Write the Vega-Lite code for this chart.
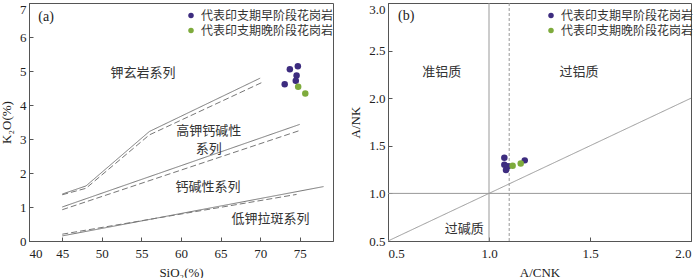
{
  "$schema": "https://vega.github.io/schema/vega-lite/v6.json",
  "padding": {"left": 0, "top": 0, "right": 3, "bottom": 0},
  "spacing": 14,
  "datasets": {
    "linesA": [
      {"id": "A1", "style": "solid", "x": 45, "y": 1.38},
      {"id": "A1", "style": "solid", "x": 48, "y": 1.62},
      {"id": "A1", "style": "solid", "x": 56, "y": 3.22},
      {"id": "A1", "style": "solid", "x": 70, "y": 4.79},
      {"id": "A2", "style": "dashed", "x": 45, "y": 1.36},
      {"id": "A2", "style": "dashed", "x": 48, "y": 1.55},
      {"id": "A2", "style": "dashed", "x": 56, "y": 3.12},
      {"id": "A2", "style": "dashed", "x": 70.2, "y": 4.66},
      {"id": "B1", "style": "solid", "x": 45, "y": 1.0},
      {"id": "B1", "style": "solid", "x": 75, "y": 3.43},
      {"id": "B2", "style": "dashed", "x": 45, "y": 0.92},
      {"id": "B2", "style": "dashed", "x": 75, "y": 3.25},
      {"id": "C1", "style": "solid", "x": 45, "y": 0.15},
      {"id": "C1", "style": "solid", "x": 78, "y": 1.6},
      {"id": "C2", "style": "dashed", "x": 45, "y": 0.2},
      {"id": "C2", "style": "dashed", "x": 74.6, "y": 1.37}
    ],
    "pointsA": [
      {"group": "代表印支期早阶段花岗岩", "x": 73.75, "y": 5.05},
      {"group": "代表印支期早阶段花岗岩", "x": 74.76, "y": 5.14},
      {"group": "代表印支期早阶段花岗岩", "x": 74.6, "y": 4.87},
      {"group": "代表印支期早阶段花岗岩", "x": 74.5, "y": 4.71},
      {"group": "代表印支期早阶段花岗岩", "x": 73.1, "y": 4.61},
      {"group": "代表印支期晚阶段花岗岩", "x": 74.8, "y": 4.54},
      {"group": "代表印支期晚阶段花岗岩", "x": 75.7, "y": 4.34}
    ],
    "textA": [
      {"x": 55.2, "y": 4.94, "label": "钾玄岩系列"},
      {"x": 63.5, "y": 3.23, "label": "高钾钙碱性"},
      {"x": 63.5, "y": 2.72, "label": "系列"},
      {"x": 63.4, "y": 1.59, "label": "钙碱性系列"},
      {"x": 71.3, "y": 0.65, "label": "低钾拉斑系列"}
    ],
    "linesB": [
      {"id": "v1", "style": "solid", "x": 1.0, "y": 0.5},
      {"id": "v1", "style": "solid", "x": 1.0, "y": 3.0},
      {"id": "h1", "style": "solid", "x": 0.5, "y": 1.0},
      {"id": "h1", "style": "solid", "x": 2.0, "y": 1.0},
      {"id": "d1", "style": "solid", "x": 0.5, "y": 0.5},
      {"id": "d1", "style": "solid", "x": 2.0, "y": 2.0},
      {"id": "v2", "style": "dashed", "x": 1.1, "y": 0.5},
      {"id": "v2", "style": "dashed", "x": 1.1, "y": 3.0}
    ],
    "pointsB": [
      {"group": "代表印支期早阶段花岗岩", "x": 1.076, "y": 1.375},
      {"group": "代表印支期早阶段花岗岩", "x": 1.076, "y": 1.3},
      {"group": "代表印支期早阶段花岗岩", "x": 1.084, "y": 1.245},
      {"group": "代表印支期早阶段花岗岩", "x": 1.094, "y": 1.284},
      {"group": "代表印支期早阶段花岗岩", "x": 1.177, "y": 1.347},
      {"group": "代表印支期晚阶段花岗岩", "x": 1.117, "y": 1.29},
      {"group": "代表印支期晚阶段花岗岩", "x": 1.157, "y": 1.315}
    ],
    "textB": [
      {"x": 0.766, "y": 2.275, "label": "准铝质"},
      {"x": 1.445, "y": 2.275, "label": "过铝质"},
      {"x": 0.878, "y": 0.63, "label": "过碱质"}
    ],
    "tagA": [{"x": 42.95, "y": 6.59, "label": "(a)"}],
    "tagB": [{"x": 0.59, "y": 2.86, "label": "(b)"}]
  },
  "resolve": {"scale": {"color": "independent", "strokeDash": "independent"}, "legend": {"color": "independent"}},
  "hconcat": [
    {
      "width": 304,
      "height": 238,
      "encoding": {
        "x": {"field": "x", "type": "quantitative", "scale": {"domain": [40.8, 79.2], "nice": false, "zero": false},
          "axis": {"title": "SiO₂(%)", "values": [40.8, 45, 50, 55, 60, 65, 70, 75], "labelExpr": "datum.value < 41 ? '40' : datum.label", "labelFlush": true, "labelOverlap": false, "labelPadding": 10, "titlePadding": 6}},
        "y": {"field": "y", "type": "quantitative", "scale": {"domain": [0, 7], "nice": false, "zero": false},
          "axis": {"title": "K₂O(%)", "values": [0, 1, 2, 3, 4, 5, 6, 7], "tickCount": 8, "labelOverlap": false, "labelSeparation": 0, "labelPadding": 7, "labelBaseline": {"condition": {"test": "datum.value >= 7", "value": "top"}, "value": "middle"}, "titlePadding": 6}}
      },
      "layer": [
        {
          "data": {"name": "linesA"},
          "mark": {"type": "line", "color": "#777", "strokeWidth": 1},
          "encoding": {
            "detail": {"field": "id"},
            "strokeDash": {"field": "style", "type": "nominal", "scale": {"domain": ["solid", "dashed"], "range": [[1, 0], [6, 3]]}, "legend": null}
          }
        },
        {
          "data": {"name": "textA"},
          "mark": {"type": "text", "font": "Noto Sans CJK SC", "fontSize": 13, "color": "#333"},
          "encoding": {"text": {"field": "label"}}
        },
        {
          "data": {"name": "tagA"},
          "mark": {"type": "text", "font": "Liberation Serif", "fontSize": 14, "color": "#222"},
          "encoding": {"text": {"field": "label"}}
        },
        {
          "data": {"name": "pointsA"},
          "mark": {"type": "circle", "size": 42, "opacity": 1},
          "encoding": {
            "color": {"field": "group", "type": "nominal",
              "scale": {"domain": ["代表印支期早阶段花岗岩", "代表印支期晚阶段花岗岩"], "range": ["#3d2c7f", "#7eab3c"]},
              "legend": {"title": null, "orient": "none", "legendX": 156, "legendY": 6.5}}
          }
        }
      ]
    },
    {
      "width": 303,
      "height": 238,
      "encoding": {
        "x": {"field": "x", "type": "quantitative", "scale": {"domain": [0.5, 2.0], "nice": false, "zero": false},
          "axis": {"title": "A/CNK", "values": [0.5, 1.0, 1.5, 2.0], "format": ".1f", "labelFlush": true, "labelOverlap": false, "labelPadding": 10, "titlePadding": 6}},
        "y": {"field": "y", "type": "quantitative", "scale": {"domain": [0.5, 3.0], "nice": false, "zero": false},
          "axis": {"title": "A/NK", "values": [0.5, 1.0, 1.5, 2.0, 2.5, 3.0], "format": ".1f", "labelOverlap": false, "labelPadding": 7, "labelBaseline": {"condition": {"test": "datum.value >= 3", "value": "top"}, "value": "middle"}, "titlePadding": 6}}
      },
      "layer": [
        {
          "data": {"name": "linesB"},
          "mark": {"type": "line", "color": "#999", "strokeWidth": 1},
          "encoding": {
            "detail": {"field": "id"},
            "strokeDash": {"field": "style", "type": "nominal", "scale": {"domain": ["solid", "dashed"], "range": [[1, 0], [3, 2]]}, "legend": null}
          }
        },
        {
          "data": {"name": "textB"},
          "mark": {"type": "text", "font": "Noto Sans CJK SC", "fontSize": 13, "color": "#333"},
          "encoding": {"text": {"field": "label"}}
        },
        {
          "data": {"name": "tagB"},
          "mark": {"type": "text", "font": "Liberation Serif", "fontSize": 14, "color": "#222"},
          "encoding": {"text": {"field": "label"}}
        },
        {
          "data": {"name": "pointsB"},
          "mark": {"type": "circle", "size": 42, "opacity": 1},
          "encoding": {
            "color": {"field": "group", "type": "nominal",
              "scale": {"domain": ["代表印支期早阶段花岗岩", "代表印支期晚阶段花岗岩"], "range": ["#3d2c7f", "#7eab3c"]},
              "legend": {"title": null, "orient": "none", "legendX": 157, "legendY": 6.5}}
          }
        }
      ]
    }
  ],
  "config": {
    "view": {"stroke": "#555", "strokeWidth": 1},
    "axis": {
      "labelFont": "Liberation Serif", "labelFontSize": 13, "labelColor": "#222",
      "titleFont": "Liberation Serif", "titleFontSize": 13, "titleFontWeight": "normal", "titleColor": "#222",
      "grid": false, "domainColor": "#555", "tickColor": "#555", "tickSize": -4, "labelPadding": 4, "titlePadding": 9,
      "labelOverlap": false
    },
    "legend": {
      "labelFont": "Noto Sans CJK SC", "labelFontSize": 12, "labelColor": "#333", "labelLimit": 300,
      "symbolType": "circle", "symbolSize": 30, "symbolStrokeWidth": 0, "symbolOpacity": 1,
      "rowPadding": 3, "labelOffset": 4, "padding": 0
    }
  }
}
